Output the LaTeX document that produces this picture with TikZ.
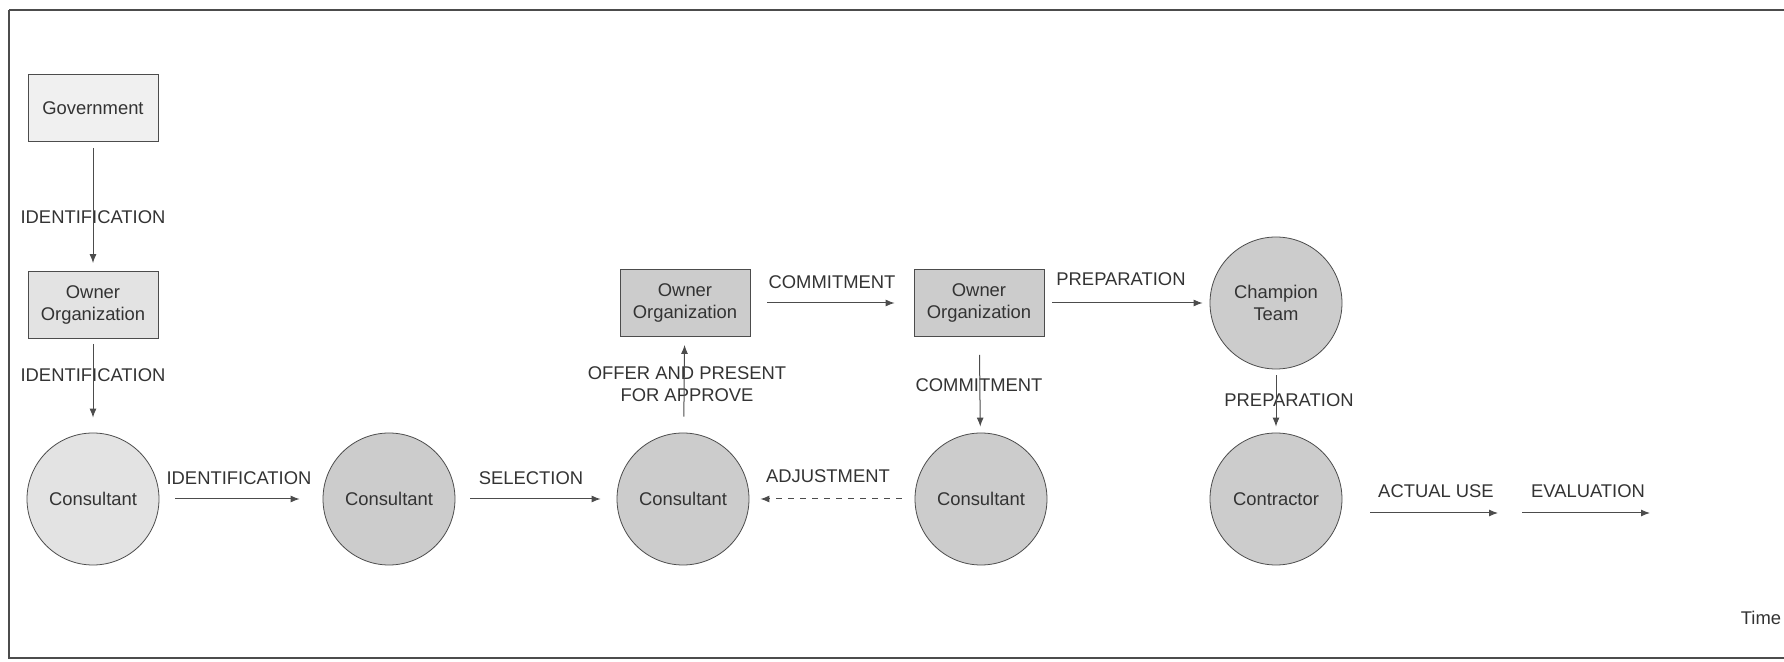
\documentclass[tikz,border=0pt]{standalone}
\usepackage{fontspec}
\setmainfont{Liberation Sans}
\usetikzlibrary{arrows.meta}

\definecolor{linegray}{gray}{0.3}
\definecolor{textgray}{gray}{0.2}
\definecolor{palefill}{gray}{0.94}
\definecolor{lightfill}{gray}{0.89}
\definecolor{darkfill}{gray}{0.80}

\tikzset{
  orgbox/.style={draw=linegray, rectangle, minimum width=65pt, minimum height=33.5pt,
    inner sep=1pt, align=center, text=textgray},
  actor/.style={draw=linegray, circle, minimum size=66pt, inner sep=0pt,
    align=center, text=textgray, fill=darkfill},
  lbl/.style={inner sep=0pt, align=center, text=textgray},
  flow/.style={draw=linegray, line width=0.5pt, -{Latex[length=4.5pt,width=3.5pt]}}
}

\begin{document}
\begin{tikzpicture}[x=0.5pt, y=-0.5pt, font=\fontsize{9.2}{11.2}\selectfont]

  \useasboundingbox (0,0) rectangle (1784,662);
  \draw[linegray, line width=1.2pt] (1784,10) -- (9,10);
  \draw[linegray, line width=0.7pt] (9,10) -- (9,658) -- (1784,658);

  \node[orgbox, fill=palefill] (gov) at (93,108) {Government};
  \node[orgbox, fill=lightfill] (own1) at (93,305) {Owner\\Organization};
  \node[actor, fill=lightfill] (cons1) at (93,499) {Consultant};
  \node[actor] (cons2) at (389,499) {Consultant};
  \node[actor] (cons3) at (683,499) {Consultant};
  \node[orgbox, fill=darkfill] (own2) at (685,303) {Owner\\Organization};
  \node[orgbox, fill=darkfill] (own3) at (979,303) {Owner\\Organization};
  \node[actor] (cons4) at (981,499) {Consultant};
  \node[actor] (champ) at (1276,303) {Champion\\Team};
  \node[actor] (contr) at (1276,499) {Contractor};

  \coordinate (use1) at (1370,513);
  \coordinate (use2) at (1498,513);
  \coordinate (eval1) at (1522,513);
  \coordinate (eval2) at (1650,513);

  % labels
  \node[lbl] (idlbl1) at (93,217) {IDENTIFICATION};
  \node[lbl] (idlbl2) at (93,375) {IDENTIFICATION};
  \node[lbl] (idlbl3) at (239,478) {IDENTIFICATION};
  \node[lbl] (sellbl) at (531,478) {SELECTION};
  \node[lbl] (offerlbl) at (687,384) {OFFER AND PRESENT\\FOR APPROVE};
  \node[lbl] (comlbl1) at (832,282) {COMMITMENT};
  \node[lbl] (comlbl2) at (979,385) {COMMITMENT};
  \node[lbl] (adjlbl) at (828,476) {ADJUSTMENT};
  \node[lbl] (preplbl1) at (1121,279) {PREPARATION};
  \node[lbl] (preplbl2) at (1289,400) {PREPARATION};
  \node[lbl] (uselbl) at (1436,491) {ACTUAL USE};
  \node[lbl] (evallbl) at (1588,491) {EVALUATION};
  \node[lbl] (timelbl) at (1761,618) {Time};

  \draw[flow, shorten <=3pt, shorten >=4pt] (gov) -- (own1);
  \draw[flow, shorten <=2.5pt, shorten >=7.5pt] (own1) -- (cons1);
  \draw[flow, shorten <=8pt, shorten >=11.5pt] (cons1) -- (cons2);
  \draw[flow, shorten <=7.5pt, shorten >=8pt] (cons2) -- (cons3);
  \draw[flow, shorten <=8pt, shorten >=4pt] (cons3) -- (own2);
  \draw[flow, shorten <=8.5pt, shorten >=9.5pt] (own2) -- (own3);
  \draw[flow, shorten <=9pt, shorten >=3pt] (own3) -- (cons4);
  \draw[flow, dashed, shorten <=6.5pt, shorten >=5.5pt] (cons4) -- (cons3);
  \draw[flow, shorten <=4pt, shorten >=3.5pt] (own3) -- (champ);
  \draw[flow, shorten <=3pt, shorten >=3pt] (champ) -- (contr);
  \draw[flow] (use1) -- (use2);
  \draw[flow] (eval1) -- (eval2);

\end{tikzpicture}
\end{document}
